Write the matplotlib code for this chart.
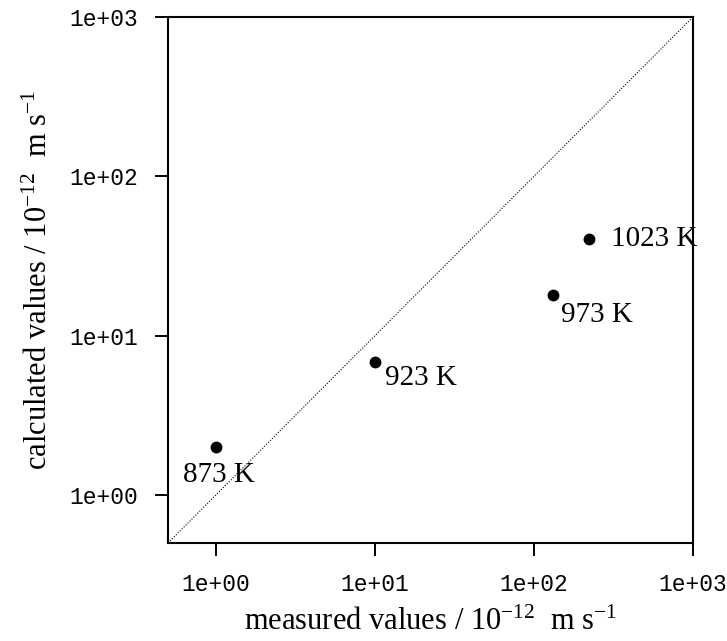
"""Measured vs calculated values on log-log axes, one point per temperature."""

import matplotlib
matplotlib.use("Agg")
import matplotlib.pyplot as plt

plt.rcParams["font.family"] = ["Liberation Serif", "DejaVu Serif"]
plt.rcParams["mathtext.fontset"] = "custom"
plt.rcParams["mathtext.rm"] = "Liberation Serif"
plt.rcParams["mathtext.default"] = "regular"

# data
temps = ["873 K", "923 K", "973 K", "1023 K"]
measured = [1.0, 10.0, 131.0, 222.0]
calculated = [2.0, 6.8, 18.1, 40.2]
# label offsets in points (dx, dy) and alignment
offsets = [(2, -20), (7, -11.5), (6, -14.5), (16, 0)]
aligns = ["center", "left", "left", "left"]

ticks = [1, 10, 100, 1000]
tick_labels = ["1e+00", "1e+01", "1e+02", "1e+03"]

fig = plt.figure(figsize=(7.27, 6.41), dpi=100)
ax = fig.add_axes([0.2311, 0.1529, 0.7221, 0.8206])

ax.set_xscale("log")
ax.set_yscale("log")
ax.set_xlim(0.5, 1000)
ax.set_ylim(0.5, 1000)

ax.axline((1, 1), (10, 10), color="black", linestyle=(0, (1, 1.5)), linewidth=0.8)
ax.plot(measured, calculated, "o", color="black", markersize=7.5)

for name, x, y, off, ha in zip(temps, measured, calculated, offsets, aligns):
    ax.annotate(name, (x, y), xytext=off, textcoords="offset points",
                ha=ha, va="center", fontsize=21)

ax.set_xticks(ticks)
ax.set_xticklabels(tick_labels)
ax.set_yticks(ticks)
ax.set_yticklabels(tick_labels)
ax.minorticks_off()
for lab in ax.get_xticklabels() + ax.get_yticklabels():
    lab.set_family("Liberation Mono")
    lab.set_fontsize(16.5)
ax.tick_params(direction="out", length=9.4, width=1.4, pad=12)

for sp in ax.spines.values():
    sp.set_linewidth(1.5)

ax.set_xlabel(r"measured values / 10$^{-12}$  m s$^{-1}$", fontsize=22, labelpad=9)
ax.set_ylabel(r"calculated values / 10$^{-12}$  m s$^{-1}$", fontsize=22, labelpad=11)

fig.savefig("out.png", dpi=100)
